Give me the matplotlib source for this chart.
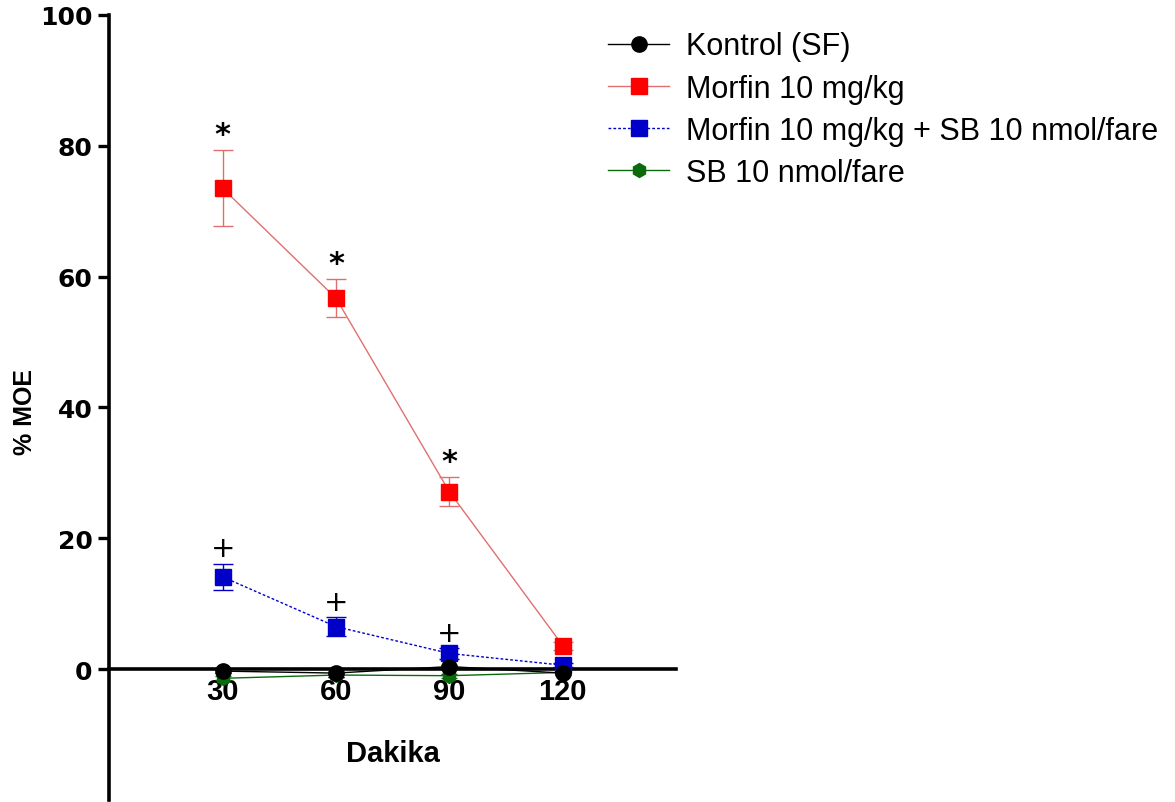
import matplotlib
matplotlib.use("Agg")
import matplotlib.pyplot as plt
from matplotlib.lines import Line2D

# Time points (minutes)
minutes = [30, 60, 90, 120]
x_tick_labels = ["30", "60", "90", "120"]
y_ticks = [0, 20, 40, 60, 80, 100]

# Group names
group_names = [
    "Kontrol (SF)",
    "Morfin 10 mg/kg",
    "Morfin 10 mg/kg + SB 10 nmol/fare",
    "SB 10 nmol/fare",
]

# %MOE means and SEM per group
kontrol_mean = [-0.3, -0.6, 0.4, -0.6]
kontrol_sem = [0.3, 0.6, 0.3, 0.3]
morfin_mean = [73.5, 56.7, 27.1, 3.6]
morfin_sem = [5.8, 2.9, 2.2, 0.6]
morfin_sb_mean = [14.1, 6.5, 2.4, 0.6]
morfin_sb_sem = [2.0, 1.4, 0.8, 0.3]
sb_mean = [-1.4, -0.9, -1.0, -0.5]
sb_sem = [0.3, 0.3, 0.3, 0.3]

# Significance markers above points
morfin_marks = ["*", "*", "*", ""]
morfin_sb_marks = ["+", "+", "+", ""]

fig = plt.figure(figsize=(11.75, 8.03), dpi=100)
ax = fig.add_axes([0.093, 0.0025, 0.4825, 0.9776])

red = "#ff0000"
red_line = "#e07070"
blue = "#0000c8"
green = "#0b6b0b"

# Morfin
ax.errorbar(minutes, morfin_mean, yerr=morfin_sem, color=red_line, lw=1.0,
            marker="s", ms=11.5, mfc=red, mec=red, capsize=7, capthick=1.0,
            elinewidth=1.0, zorder=3)
# Morfin + SB
ax.errorbar(minutes, morfin_sb_mean, yerr=morfin_sb_sem, color=blue, lw=1.0,
            ls=(0, (2, 1.5)), marker="s", ms=11.5, mfc=blue, mec=blue,
            capsize=7, capthick=1.0, elinewidth=1.0, zorder=4)
# SB
ax.errorbar(minutes, sb_mean, yerr=sb_sem, color=green, lw=1.0,
            marker="h", ms=10, mfc=green, mec=green, capsize=6, capthick=1.0,
            elinewidth=1.0, zorder=5)
# Kontrol
ax.errorbar(minutes, kontrol_mean, yerr=kontrol_sem, color="black", lw=1.0,
            marker="o", ms=11, mfc="black", mec="black", capsize=6,
            capthick=1.0, elinewidth=1.0, zorder=6)

# Significance symbols
for xv, m, s, t in zip(minutes, morfin_mean, morfin_sem, morfin_marks):
    if t:
        ax.annotate(t, (xv, m + s), xytext=(0, 1), textcoords="offset points",
                    ha="center", va="bottom", fontsize=22, fontweight="bold",
                    family="DejaVu Sans", zorder=7)
for xv, m, s, t in zip(minutes, morfin_sb_mean, morfin_sb_sem, morfin_sb_marks):
    if t:
        ax.annotate(t, (xv, m + s), xytext=(0, 1), textcoords="offset points",
                    ha="center", va="bottom", fontsize=21,
                    family="DejaVu Sans", zorder=7)

ax.set_xlim(0, 150)
ax.set_ylim(-20, 100)

ax.spines["top"].set_visible(False)
ax.spines["right"].set_visible(False)
ax.spines["bottom"].set_position(("data", 0))
ax.spines["bottom"].set_linewidth(2.6)
ax.spines["left"].set_linewidth(2.6)
ax.spines["bottom"].set_zorder(2)

ax.set_xticks(minutes)
ax.set_xticklabels(x_tick_labels, fontsize=21, fontweight="bold",
                   family="Liberation Sans")
ax.tick_params(axis="x", length=0, pad=6)
ax.set_yticks(y_ticks)
ax.set_yticklabels([str(v) for v in y_ticks], fontsize=18, fontweight="bold",
                   family="DejaVu Sans")
ax.tick_params(axis="y", length=8, width=2.4, pad=4)

ax.set_xlabel("Dakika", fontsize=21, fontweight="bold", family="Liberation Sans",
              labelpad=24)
fig.text(25 / 1175, 1 - 412 / 803, "% MOE", rotation=90, ha="center",
         va="center", fontsize=18, fontweight="bold", family="Liberation Sans")

# Legend
handles = [
    Line2D([], [], color="black", lw=1.0, marker="o", ms=11, mfc="black", mec="black"),
    Line2D([], [], color=red_line, lw=1.0, marker="s", ms=11.5, mfc=red, mec=red),
    Line2D([], [], color=blue, lw=1.0, ls=(0, (2, 1.5)), marker="s", ms=11.5,
           mfc=blue, mec=blue),
    Line2D([], [], color=green, lw=1.0, marker="h", ms=10, mfc=green, mec=green),
]
fig.legend(handles, group_names, loc="upper left",
           bbox_to_anchor=(0.494, 0.994), frameon=False,
           prop={"family": "Liberation Sans", "size": 22},
           handlelength=2.0, handletextpad=0.55, labelspacing=0.40)

fig.savefig("out.png", dpi=100)
